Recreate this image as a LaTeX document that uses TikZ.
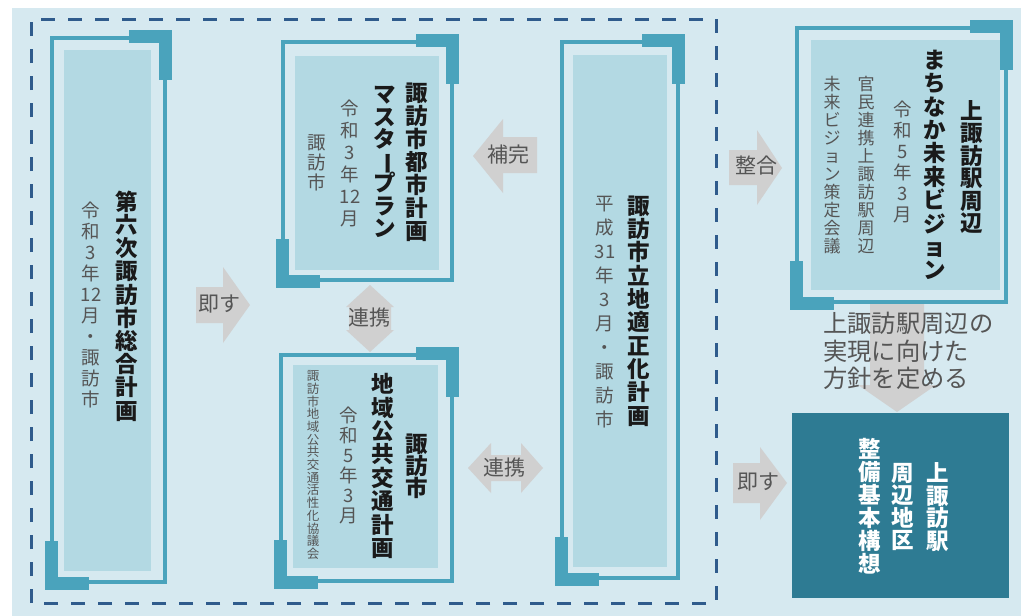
\documentclass[tikz,border=0pt]{standalone}
\usepackage{fontspec}
\usepackage{graphicx}
\newfontfamily\jp{Noto Sans CJK JP}
\usetikzlibrary{calc}
\definecolor{bgc}{HTML}{D6E9F0}
\definecolor{dashc}{HTML}{2F5B8C}
\definecolor{framec}{HTML}{4AA3BC}
\definecolor{innerc}{HTML}{B3D9E3}
\definecolor{darkc}{HTML}{2E7B93}
\definecolor{arrc}{HTML}{D0D0D0}
\definecolor{titc}{HTML}{1A1A1A}
\definecolor{subc}{HTML}{555555}
\ExplSyntaxOn
\NewDocumentCommand{\vtx}{mm}{
  \vbox{
    \skip_set:Nn \baselineskip {#1}
    \dim_set:Nn \lineskiplimit {-100pt}
    \tl_map_inline:nn {#2} { \hbox_to_wd:nn {1.3em} { \hss ##1 \hss } }
  }
}
\ExplSyntaxOff
\newcommand{\vbar}{\rotatebox[origin=c]{-90}{ー}}
\tikzset{
  outer/.style={draw=framec, line width=4pt},
  inner/.style={fill=innerc},
  acc/.style={fill=framec},
  ttl/.style={inner sep=0pt, text=titc, font=\jp\bfseries\fontsize{22.5}{22.5}\selectfont},
  sub/.style={inner sep=0pt, text=subc, font=\jp\fontsize{18.5}{18.5}\selectfont},
  small/.style={inner sep=0pt, text=subc, font=\jp\fontsize{12.5}{12.5}\selectfont},
  mid/.style={inner sep=0pt, text=subc, font=\jp\fontsize{17}{17}\selectfont},
  wtt/.style={inner sep=0pt, text=white, font=\jp\bfseries\fontsize{22.5}{22.5}\selectfont},
  arr/.style={fill=arrc},
  arrt/.style={inner sep=0pt, text=subc, font=\jp\fontsize{21}{21}\selectfont},
  dashframe/.style={draw=dashc, line width=3pt, dash pattern=on 14pt off 13pt}
}
% accents for a frame with corners (x1,y1)-(x2,y2)
\newcommand{\accents}[4]{%
  \fill[acc] (#3-36,#2-8) rectangle (#3+7,#2+5);
  \fill[acc] (#3-6,#2-8) rectangle (#3+7,#2+42);
  \fill[acc] (#1-7,#4-41) rectangle (#1+6,#4+8);
  \fill[acc] (#1-7,#4-5) rectangle (#1+37,#4+8);
}
\begin{document}
\begin{tikzpicture}[x=1pt,y=-1pt]
\useasboundingbox (0,0) rectangle (1021,616);
\fill[white] (0,0) rectangle (1021,616);
\fill[bgc] (12,8) rectangle (1021,616);
% dashed frame
\draw[dashframe] (31,603) -- (31,19) -- (716,19) -- (716,603) -- cycle;

% arrows (shapes)
\fill[arr] (196,287) -- (223,287) -- (223,267) -- (250,305) -- (223,343) -- (223,323) -- (196,323) -- cycle;
\fill[arr] (537,137) -- (503,137) -- (503,119) -- (473,156) -- (503,193) -- (503,173) -- (537,173) -- cycle;
\fill[arr] (370,285) -- (394,307) -- (391,307) -- (391,330) -- (394,330) -- (370,352) -- (346,330) -- (349,330) -- (349,307) -- (346,307) -- cycle;
\fill[arr] (468,468) -- (491,443) -- (491,455) -- (521,455) -- (521,443) -- (543,468) -- (521,493) -- (521,481) -- (491,481) -- (491,493) -- cycle;
\fill[arr] (729,150) -- (757,150) -- (757,130) -- (782,168) -- (757,205) -- (757,185) -- (729,185) -- cycle;
\fill[arr] (733,463) -- (760,463) -- (760,447) -- (787,483) -- (760,520) -- (760,503) -- (733,503) -- cycle;
\fill[arr] (870,303) -- (924,303) -- (924,385) -- (936,385) -- (897,412) -- (858,385) -- (870,385) -- cycle;

% Box 1
\fill[inner] (64,50) rectangle (151,571);
\draw[outer] (52,38) rectangle (165,582);
\accents{52}{38}{165}{582}
\node[ttl] (t1) at (127,306) {\vtx{23.2pt}{第六次諏訪市総合計画}};
\node[sub] (s1) at (91,305) {\vtx{21pt}{令和3年{12}月・諏訪市}};

% Box 2
\fill[inner] (295,56) rectangle (439,270);
\draw[outer] (283,42) rectangle (452,280);
\accents{283}{42}{452}{280}
\node[ttl] (t2a) at (417,162) {\vtx{23pt}{諏訪市都市計画}};
\node[ttl] (t2b) at (385,162) {\vtx{22.3pt}{マスタ{\vbar}プラン}};
\node[sub] (s2a) at (350,163) {\vtx{22pt}{令和3年{12}月}};
\node[sub] (s2b) at (317,163) {\vtx{20pt}{諏訪市}};

% Box 3
\fill[inner] (293,365) rectangle (438,568);
\draw[outer] (281,355) rectangle (452,581);
\accents{281}{355}{452}{581}
\node[ttl] (t3a) at (417,466) {\vtx{22pt}{諏訪市}};
\node[ttl] (t3b) at (383,466) {\vtx{23.4pt}{地域公共交通計画}};
\node[sub] (s3a) at (349,465) {\vtx{20pt}{令和5年3月}};
\node[small] (s3b) at (313,465) {\vtx{12.7pt}{諏訪市地域公共交通活性化協議会}};

% Box 4
\fill[inner] (573,55) rectangle (667,567);
\draw[outer] (562,42) rectangle (678,578);
\accents{562}{42}{678}{578}
\node[ttl] (t4) at (639,311) {\vtx{23.3pt}{諏訪市立地適正化計画}};
\node[sub] (s4) at (605,312) {\vtx{24pt}{平成{31}年3月・諏訪市}};

% Box 5
\fill[inner] (811,40) rectangle (1000,290);
\draw[outer] (797,28) rectangle (1006,302);
\accents{797}{28}{1006}{302}
\node[ttl] (t5a) at (972,167) {\vtx{22.5pt}{上諏訪駅周辺}};
\node[ttl] (t5b) at (935,165) {\vtx{23.4pt}{まちなか未来ビジョン}};
\node[sub] (s5a) at (903,162) {\vtx{21pt}{令和5年3月}};
\node[mid] (s5b) at (866,165) {\vtx{18pt}{官民連携上諏訪駅周辺}};
\node[mid] (s5c) at (832,165) {\vtx{18pt}{未来ビジョン策定会議}};

% Box 6
\fill[darkc] (792,413) rectangle (1009,598);
\node[wtt] (t6a) at (938,507) {\vtx{22.5pt}{上諏訪駅}};
\node[wtt] (t6b) at (903,507) {\vtx{22.5pt}{周辺地区}};
\node[wtt] (t6c) at (870,506) {\vtx{23pt}{整備基本構想}};

% note text
\node[inner sep=0pt, anchor=north west, align=left, text=subc,
      font=\jp\fontsize{24.3}{27.5}\selectfont] (note) at (823,312)
      {上諏訪駅周辺の\\実現に向けた\\方針を定める};

% arrow labels
\node[arrt] (a1) at (219,304) {即す};
\node[arrt] (a2) at (508,155) {補完};
\node[arrt] (a3) at (369,318) {連携};
\node[arrt] (a4) at (504,468) {連携};
\node[arrt] (a5) at (756,166) {整合};
\node[arrt] (a6) at (758,482) {即す};
\end{tikzpicture}
\end{document}
